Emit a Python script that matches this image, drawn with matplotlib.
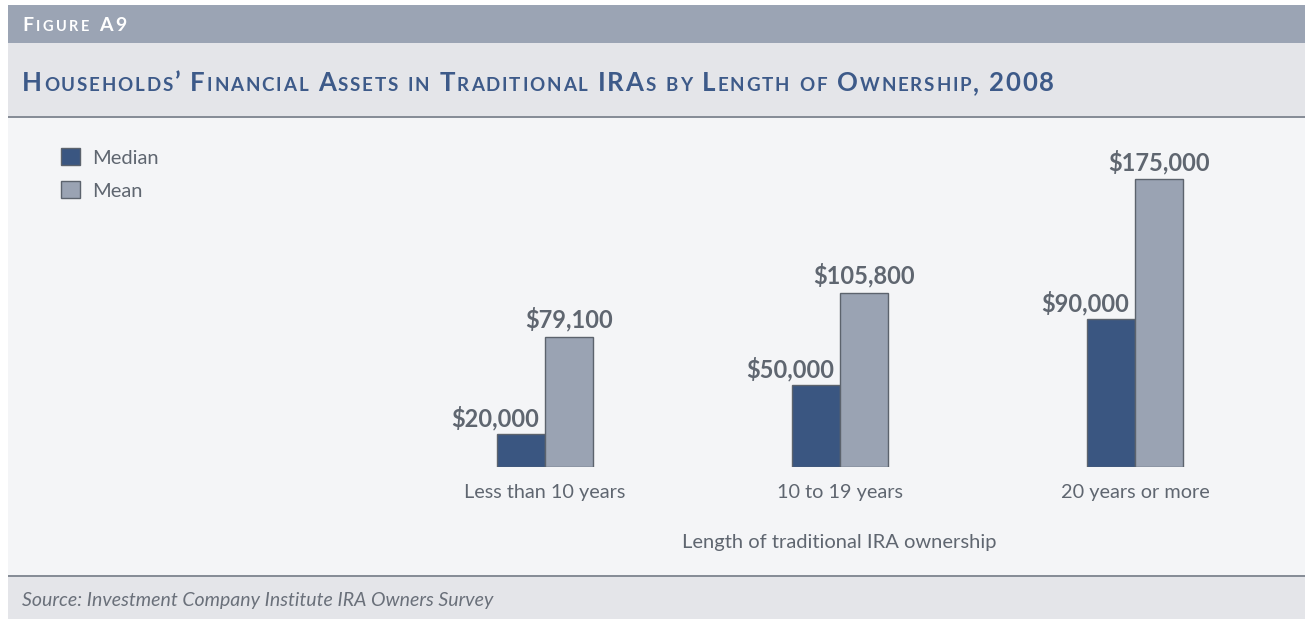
import re
import matplotlib
matplotlib.use("Agg")
import matplotlib.pyplot as plt
from matplotlib.patches import Rectangle
import numpy as np

categories = ["Less than 10 years", "10 to 19 years", "20 years or more"]
median_vals = [20000, 50000, 90000]
mean_vals = [79100, 105800, 175000]
series_names = ["Median", "Mean"]

W, H = 1305, 619
plt.rcParams["font.family"] = ["Lato", "DejaVu Sans"]

fig = plt.figure(figsize=(W / 100, H / 100), dpi=100)
fig.patch.set_facecolor("white")
renderer = fig.canvas.get_renderer()

def px(x, y):
    return x / W, 1 - y / H

def band(y0, y1, color, x0=8):
    fx, fy = px(x0, y1)
    fig.add_artist(Rectangle((fx, fy), (W - x0) / W, (y1 - y0) / H,
                             transform=fig.transFigure, facecolor=color,
                             edgecolor="none", zorder=0))

band(5, 43, "#9ba4b4")
band(43, 116, "#e4e5e9")
band(116, 118, "#878d97")
band(118, 575, "#f4f5f7")
band(575, 577, "#878d97")
band(577, 619, "#e4e5e9")

def tw(s, size, **kw):
    t = fig.text(0, 0, s, fontsize=size, **kw)
    w = t.get_window_extent(renderer).width
    t.remove()
    return w

# draws segments of (text, size) with letter spacing, x/y in pixels
def tracked(x, y, segs, track, **kw):
    for txt, size in segs:
        bar = tw("|", size, **kw)
        for i, ch in enumerate(txt):
            if ch != " ":
                off = tw(txt[:i] + "|", size, **kw) - bar if i else 0
                fx, fy = px(x + off + i * track, y)
                fig.text(fx, fy, ch, fontsize=size, va="baseline", ha="left", **kw)
        x += tw(txt + "|", size, **kw) - bar + track * len(txt)
    return x

def smallcaps(x, y, s, big, small, track, **kw):
    segs = []
    for run in re.findall(r"[a-z]+|[^a-z]+", s):
        segs.append((run.upper(), small) if run.islower() else (run, big))
    return tracked(x, y, segs, track, fontweight="bold", **kw)

smallcaps(22, 31, "Figure A9", 14, 10.5, 2.6, color="white")
smallcaps(22, 91, "Households\u2019 Financial Assets in Traditional IRAs by Length of Ownership, 2008",
          18.5, 13.5, 1.85, color="#3d5a89")

# chart axes
base_px, top_px = 467, 130
ax_l, ax_r = 400, 1278
c0, step = 545, 295
bl, bb = px(ax_l, base_px)
ax = fig.add_axes([bl, bb, (ax_r - ax_l) / W, (base_px - top_px) / H])
ax.set_facecolor("none")
ymax = max(mean_vals) * (base_px - top_px) / (base_px - 179)
ax.set_ylim(0, ymax)
ax.set_xlim((ax_l - c0) / step, (ax_r - c0) / step)

x = np.arange(len(categories))
w = 48 / step
b1 = ax.bar(x - w / 2, median_vals, w, color="#3a5681", edgecolor="#5c636d", linewidth=1, label=series_names[0])
b2 = ax.bar(x + w / 2, mean_vals, w, color="#9aa3b3", edgecolor="#5c636d", linewidth=1, label=series_names[1])

lab_color = "#5f6670"
for xi, v in zip(x, median_vals):
    ax.annotate(f"${v:,}", (xi, v), xytext=(-4, 5.5), textcoords="offset points",
                ha="right", va="baseline", fontsize=17, fontweight="bold", color=lab_color)
for xi, v in zip(x, mean_vals):
    ax.annotate(f"${v:,}", (xi + w / 2, v), xytext=(0, 6.5), textcoords="offset points",
                ha="center", va="baseline", fontsize=17, fontweight="bold", color=lab_color)

ax.set_xticks(x)
ax.set_xticklabels(categories, fontsize=14.3, color=lab_color)
ax.tick_params(axis="x", length=0, pad=12)
ax.set_yticks([])
for s in ax.spines.values():
    s.set_visible(False)
ax.set_xlabel("Length of traditional IRA ownership", fontsize=14.5, color=lab_color, labelpad=24)

lx, ly = px(61, 148)
fig.legend(handles=[b1, b2], loc="upper left", bbox_to_anchor=(lx, ly), frameon=False,
           fontsize=14.5, labelcolor=lab_color, handlelength=0.95, handleheight=0.95,
           handletextpad=0.6, labelspacing=0.72, borderpad=0, borderaxespad=0)

sx, sy = px(22, 606)
fig.text(sx, sy, "Source: Investment Company Institute IRA Owners Survey", fontsize=14,
         style="italic", color="#6a707a", va="baseline")

fig.savefig("out.png", dpi=100, facecolor=fig.get_facecolor())
